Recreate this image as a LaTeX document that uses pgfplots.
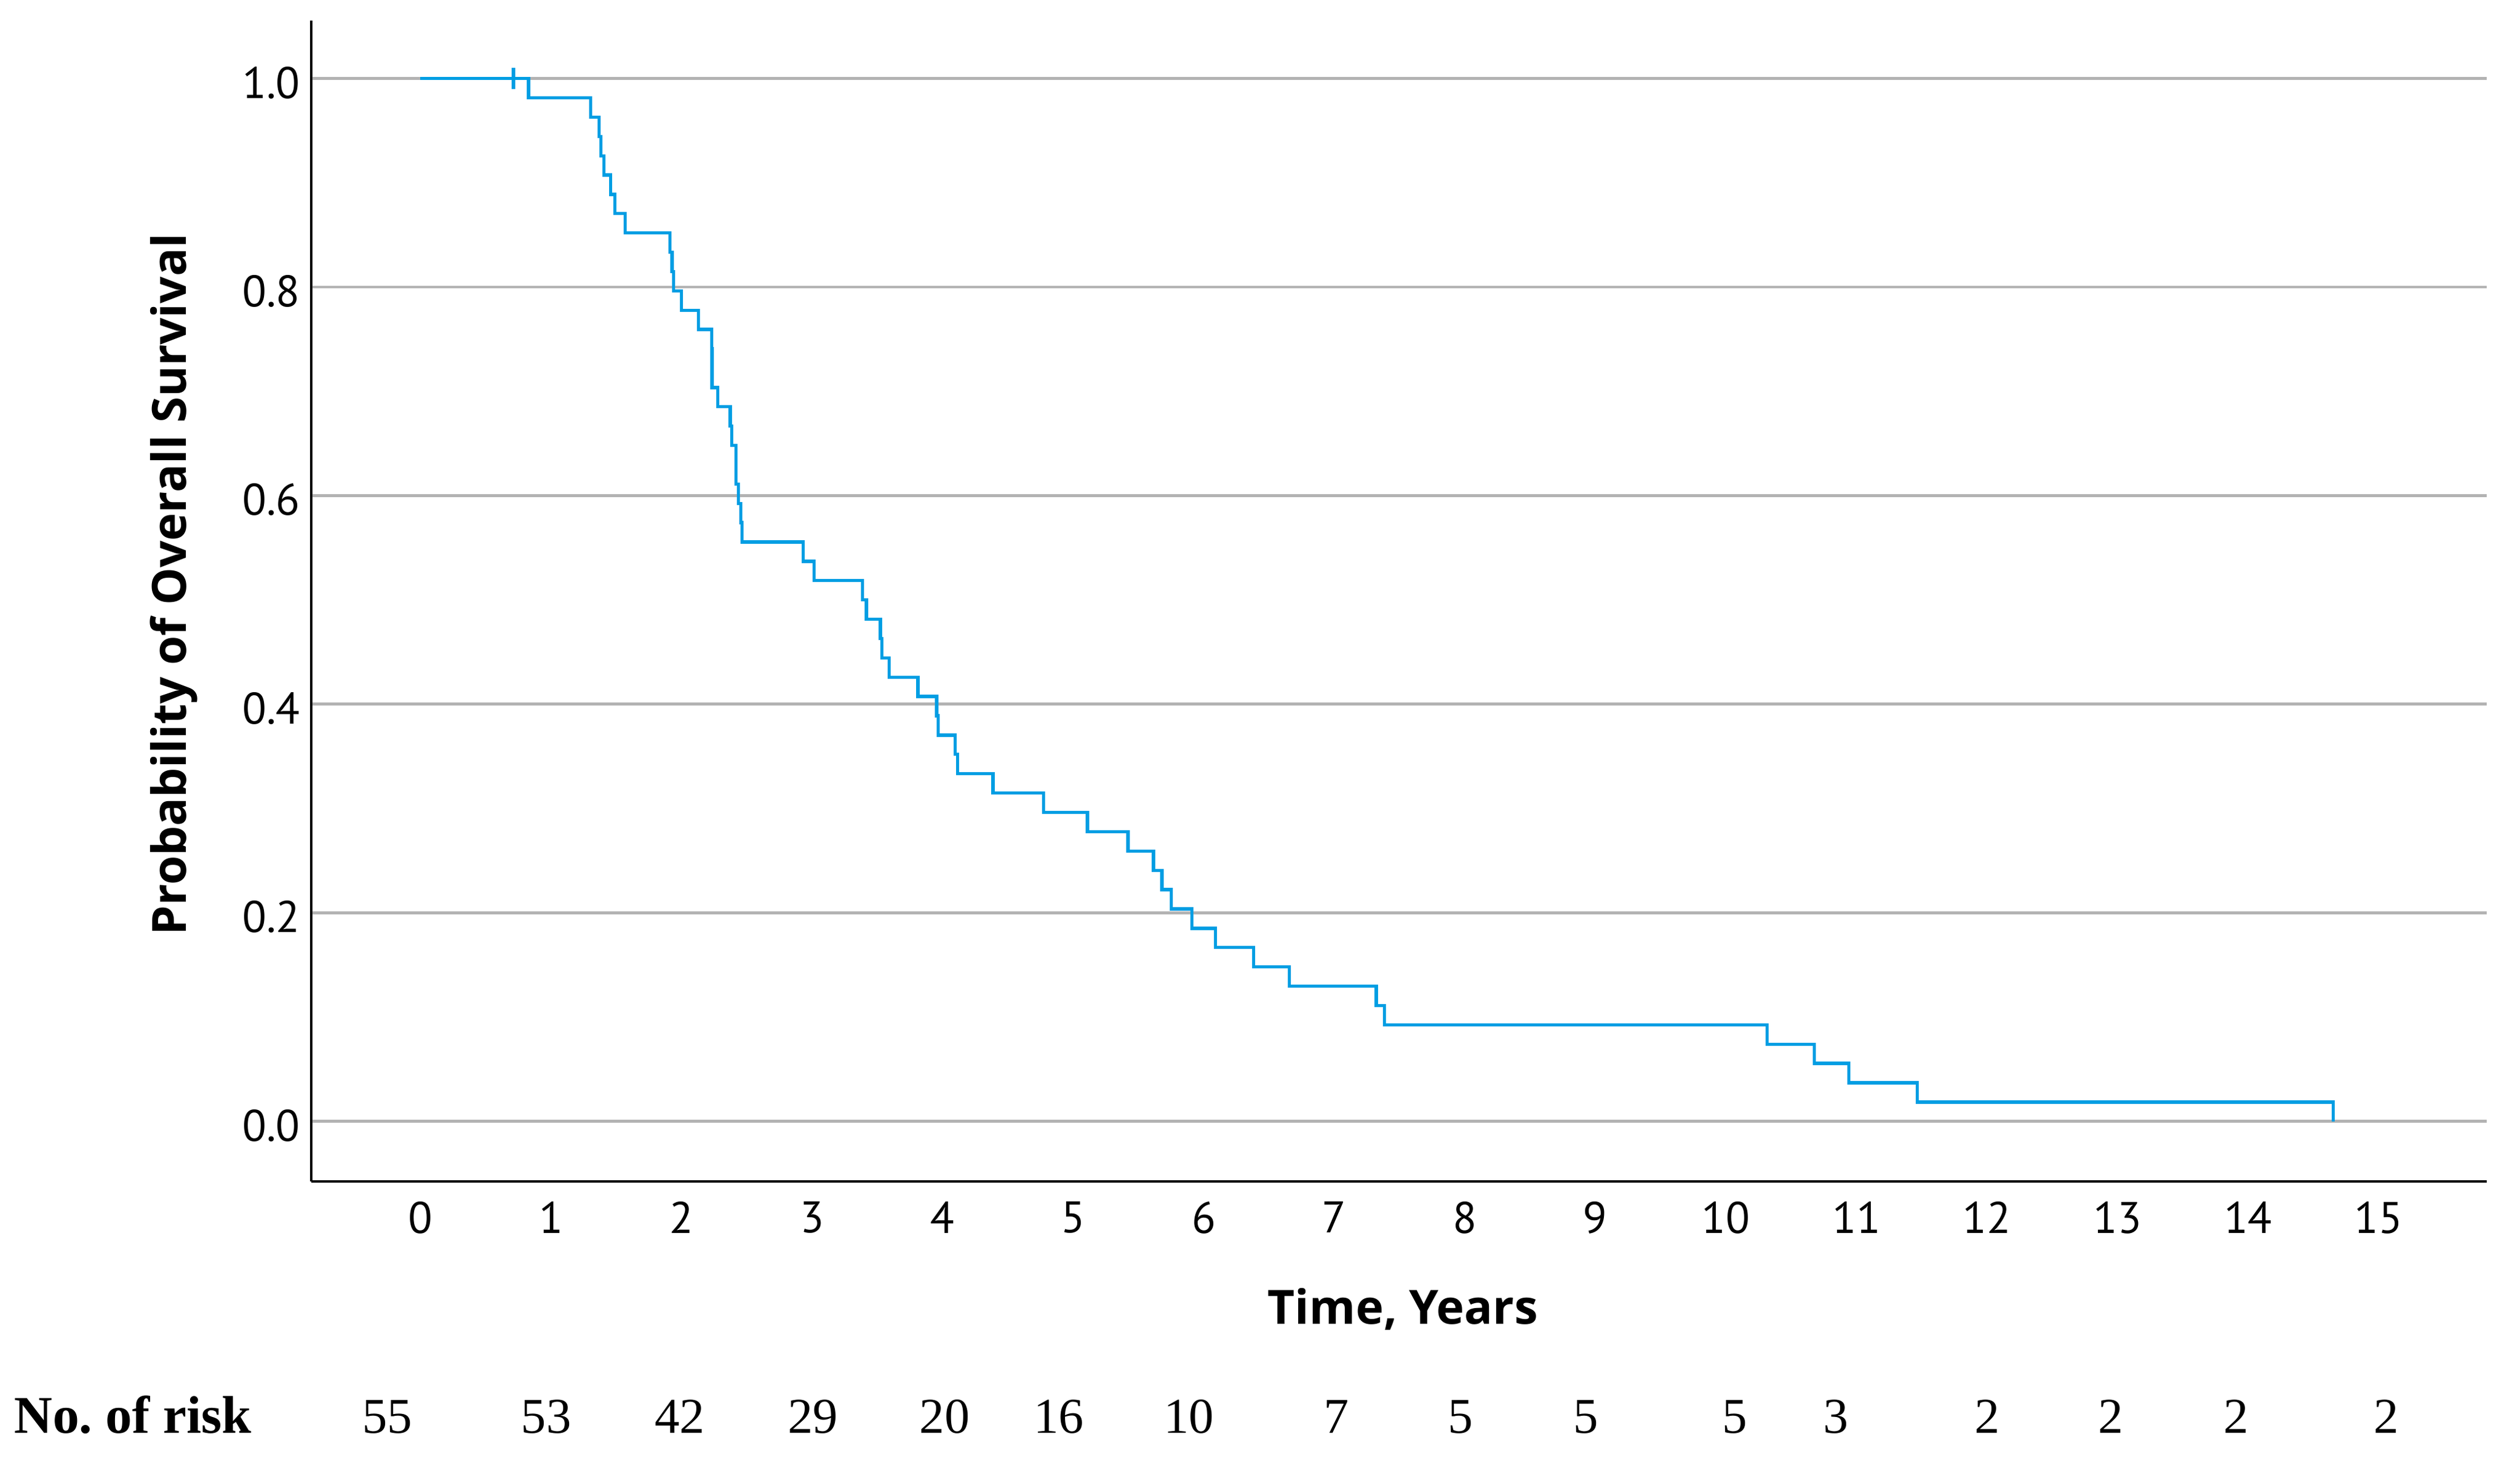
\documentclass[border=0pt]{standalone}
\usepackage{fontspec}
\setmainfont{Liberation Serif}
\newfontfamily\axisfont{PT Sans}
\newfontfamily\labelfont{Open Sans}
\usepackage{pgfplots}
\usepackage{pgfplotstable}
\pgfplotsset{compat=1.18}
\definecolor{kmblue}{HTML}{009EE3}
\definecolor{gridgray}{HTML}{B3B3B3}

% Kaplan-Meier steps: time (years), survival
\pgfplotstableread{
t      s
0.000  1.0000
0.829  0.9815
1.303  0.9630
1.370  0.9444
1.383  0.9259
1.407  0.9074
1.457  0.8889
1.489  0.8704
1.569  0.8519
1.912  0.8333
1.928  0.8148
1.939  0.7963
2.000  0.7778
2.128  0.7593
2.231  0.7407
2.234  0.7037
2.277  0.6852
2.373  0.6667
2.384  0.6481
2.416  0.6111
2.434  0.5926
2.453  0.5741
2.463  0.5556
2.932  0.5370
3.014  0.5185
3.385  0.5000
3.417  0.4815
3.523  0.4630
3.534  0.4444
3.590  0.4259
3.811  0.4074
3.955  0.3889
3.965  0.3704
4.096  0.3519
4.114  0.3333
4.386  0.3148
4.772  0.2963
5.109  0.2778
5.420  0.2593
5.615  0.2407
5.679  0.2222
5.753  0.2037
5.908  0.1852
6.089  0.1667
6.382  0.1481
6.656  0.1296
7.321  0.1111
7.385  0.0926
10.314 0.0741
10.678 0.0556
10.942 0.0370
11.465 0.0185
14.652 0.0000
}\kmdata

\begin{document}
\begin{tikzpicture}[risk/.style={font=\fontsize{15.5}{17}\selectfont, anchor=base}]
\path[use as bounding box] (-96.4pt,-85.3pt) rectangle (683.6pt,365.6pt);
\begin{axis}[
    scale only axis,
    width=673.3pt, height=359.3pt,
    xmin=-0.835, xmax=15.828,
    ymin=-0.0575, ymax=1.0557,
    axis x line*=bottom, axis y line*=left,
    axis line style={black, line width=0.75pt, -},
    xtick={0,1,...,15},
    ytick={0,0.2,0.4,0.6,0.8,1.0},
    major tick length=0pt,
    ymajorgrids,
    grid style={gridgray, line width=0.9pt},
    /pgf/number format/assume math mode=true,
    ticklabel style={font=\axisfont\fontsize{13.7}{15}\selectfont},
    yticklabel style={/pgf/number format/fixed,
        /pgf/number format/fixed zerofill,
        /pgf/number format/precision=1, yshift=-1.3pt},
    xticklabel style={yshift=-2.7pt},
    xlabel={Time, Years},
    ylabel={Probability of Overall Survival},
    label style={font=\labelfont\bfseries\fontsize{14.6}{17}\selectfont},
    xlabel style={at={(axis description cs:0.5017,-0.1231)}, anchor=base},
    ylabel style={at={(axis description cs:-0.0576,0.514)}, anchor=base},
    clip=false,
]
\addplot[const plot, kmblue, line width=1pt] table[x=t, y=s] {\kmdata};
% censored observation
\addplot[only marks, mark=|, mark size=3.2pt, kmblue, line width=1pt]
    coordinates {(0.712,1.0)};

% number at risk
\node[anchor=base west, inner sep=0pt, font=\bfseries\fontsize{16.4}{18}\selectfont]
    at (axis cs:-3.115,-0.299) {No.\ of risk};
\node[risk] at (axis cs:-0.255,-0.299) {55};
\node[risk] at (axis cs:0.963,-0.299) {53};
\node[risk] at (axis cs:1.985,-0.299) {42};
\node[risk] at (axis cs:3.006,-0.299) {29};
\node[risk] at (axis cs:4.015,-0.299) {20};
\node[risk] at (axis cs:4.89,-0.299) {16};
\node[risk] at (axis cs:5.886,-0.299) {10};
\node[risk] at (axis cs:7.018,-0.299) {7};
\node[risk] at (axis cs:7.965,-0.299) {5};
\node[risk] at (axis cs:8.925,-0.299) {5};
\node[risk] at (axis cs:10.07,-0.299) {5};
\node[risk] at (axis cs:10.844,-0.299) {3};
\node[risk] at (axis cs:12.00,-0.299) {2};
\node[risk] at (axis cs:12.95,-0.299) {2};
\node[risk] at (axis cs:13.91,-0.299) {2};
\node[risk] at (axis cs:15.06,-0.299) {2};
\end{axis}
\end{tikzpicture}
\end{document}
